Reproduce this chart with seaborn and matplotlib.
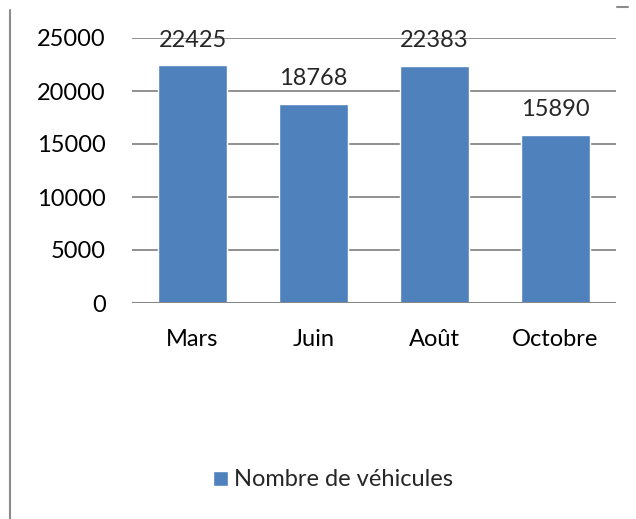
import matplotlib
matplotlib.use("Agg")
import matplotlib.pyplot as plt
from matplotlib.lines import Line2D
import seaborn as sns

# données
mois = ["Mars", "Juin", "Août", "Octobre"]
vehicules = [22425, 18768, 22383, 15890]
yticks = [0, 5000, 10000, 15000, 20000, 25000]
serie = "Nombre de véhicules"

sns.set_style("white")
plt.rcParams['font.family'] = ['Lato', 'DejaVu Sans']

fig = plt.figure(figsize=(6.36, 5.19), dpi=100)
ax = fig.add_axes([132 / 636, 1 - 303 / 519, 484 / 636, 265 / 519])

sns.barplot(x=mois, y=vehicules, color="#4F81BD", saturation=1, width=0.57,
            label=serie, ax=ax, zorder=3)

ax.set_ylim(0, 25000)
ax.set_xlim(-0.5, 3.5)
ax.set_yticks(yticks)
ax.set_yticklabels([str(v) for v in yticks])
for y in yticks[1:]:
    ax.axhline(y, color="#878787", lw=1.3, zorder=1)
ax.axhline(0, color="#878787", lw=1.5, zorder=4)

for side in ["top", "right", "left", "bottom"]:
    ax.spines[side].set_visible(False)
ax.tick_params(axis="both", length=0, labelsize=17, colors="black")
ax.tick_params(axis="y", pad=19)
ax.tick_params(axis="x", pad=19)

for i, v in enumerate(vehicules):
    ax.annotate(str(v), (i, v), xytext=(0, 13.5), textcoords="offset points",
                ha="center", va="baseline", fontsize=17)

h, l = ax.get_legend_handles_labels()
ax.legend().remove()
fig.legend(h, l, loc="center", bbox_to_anchor=(333 / 636, 1 - 480 / 519),
           frameon=False, fontsize=17, handlelength=0.6, handleheight=0.6,
           handletextpad=0.25)

# bordures de la zone du graphique
fig.add_artist(Line2D([9.5 / 636, 9.5 / 636], [0, 1 - 10 / 519],
                      color="#8c8c8c", lw=1.5))
fig.add_artist(Line2D([617 / 636, 628 / 636], [1 - 7 / 519, 1 - 7 / 519],
                      color="#8c8c8c", lw=1.5))

fig.savefig("out.png", dpi=100)
